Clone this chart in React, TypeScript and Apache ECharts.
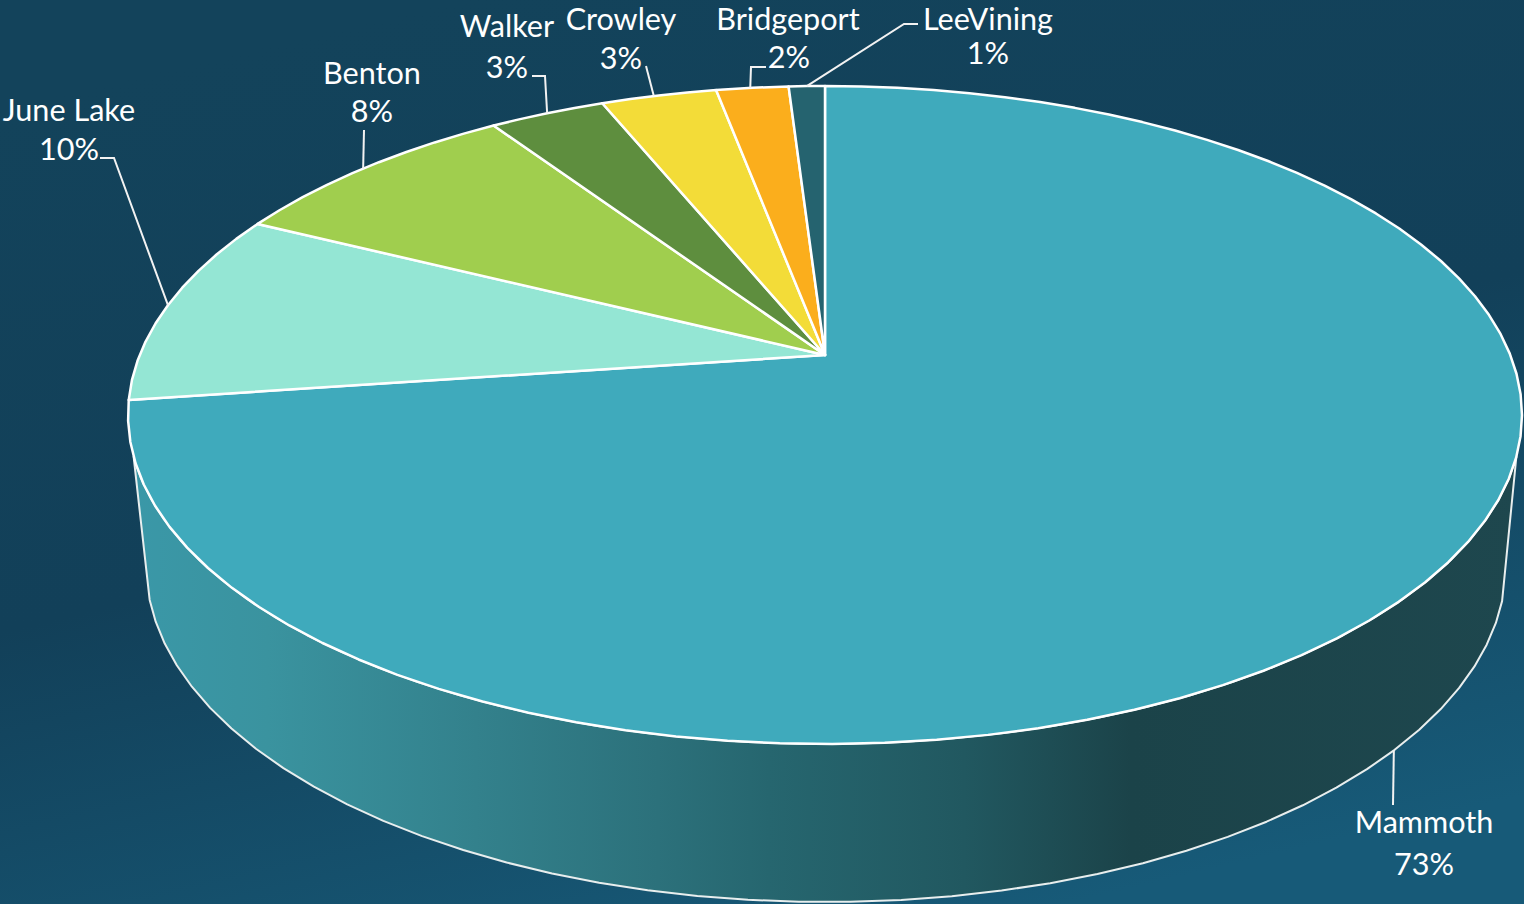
import React, { useEffect, useRef } from "react";
import * as echarts from "echarts";

const categories = ["Mammoth", "June Lake", "Benton", "Walker", "Crowley", "Bridgeport", "LeeVining"];
const shares = [72.8, 9.55, 8.25, 3.2, 3.2, 2.0, 1.0];
const sliceColors = ["#3FAABC", "#94E6D4", "#A0CE4E", "#5E8E3E", "#F3DC38", "#FBAE1C", "#25636F"];

const W = 1524;
const H = 904;
const FONT = "30.6px Lato";
const PERSPECTIVE = -0.1824;
const topRim = { cx: 825, cy: 415, rx: 697, ry: 329 };
const bottomRim = { cx: 826, cy: 565, rx: 680, ry: 337 };
const wallTop = [107.6, 252.4];
const wallBottom = [106.5, 253.7];

// label layout: name position, percent position, leader bend points, leader start nudge in degrees
const labelLayout = [
  { name: [1424, 821], pct: [1424, 863], leader: [[1393, 805]], onBottomRim: true, nudge: 0.7 },
  { name: [69, 109], pct: [69, 148], leader: [[114, 158], [100, 158]], nudge: 0 },
  { name: [372, 72.5], pct: [372, 110.5], leader: [[364, 130]], nudge: -0.3 },
  { name: [507, 25], pct: [507, 66], leader: [[545, 76], [532, 76]], nudge: 0 },
  { name: [621, 18.5], pct: [621, 57], leader: [[646, 66]], nudge: -0.5 },
  { name: [788, 18.5], pct: [789, 56], leader: [[751, 67], [766, 67]], nudge: -0.2 },
  { name: [988, 18.5], pct: [988, 52], leader: [[904, 24], [918, 24]], nudge: 0 },
];

type Rim = { cx: number; cy: number; rx: number; ry: number };

function project(rim: Rim, deg: number): number[] {
  const t = (deg * Math.PI) / 180;
  const k = PERSPECTIVE;
  const u = Math.sin(t);
  const v = -Math.cos(t);
  const y0 = rim.cy - rim.ry;
  const y1 = rim.cy + rim.ry;
  const b = (y0 * (1 - k) + y1 * (1 + k)) / 2;
  const a = (y1 * (1 + k) - y0 * (1 - k)) / 2;
  const c = rim.rx * Math.sqrt(1 - k * k);
  const d = 1 + k * v;
  return [rim.cx + (c * u) / d, (a * v + b) / d];
}

function arc(rim: Rim, from: number, to: number): number[][] {
  const step = 3.6;
  const n = Math.max(1, Math.ceil(Math.abs(to - from) / step));
  const pts: number[][] = [];
  for (let i = 0; i <= n; i++) pts.push(project(rim, from + ((to - from) * i) / n));
  return pts;
}

function pieCenter(rim: Rim): number[] {
  const k = PERSPECTIVE;
  const y0 = rim.cy - rim.ry;
  const y1 = rim.cy + rim.ry;
  return [rim.cx, (y0 * (1 - k) + y1 * (1 + k)) / 2];
}

export default function App() {
  const ref = useRef<HTMLDivElement>(null);
  useEffect(() => {
    document.body.style.margin = "0";
    const chart = echarts.init(ref.current!, null, { renderer: "svg" });
    const total = shares.reduce((s, v) => s + v, 0);
    const renderItem = (params: any, api: any) => {
      const i = params.dataIndex;
      const value = api.value(0);
      let before = 0;
      for (let j = 0; j < i; j++) before += shares[j];
      const start = (before / total) * 360;
      const end = ((before + value) / total) * 360;
      const layout = labelLayout[i];
      const mid = (start + end) / 2 + layout.nudge;
      const children: any[] = [];
      if (i === 0) {
        const points = [
          ...arc(topRim, wallTop[0], wallTop[1]),
          ...arc(bottomRim, wallBottom[1], wallBottom[0]),
        ];
        children.push({
          type: "polygon",
          shape: { points },
          style: {
            fill: new echarts.graphic.LinearGradient(
              topRim.cx - topRim.rx,
              0,
              topRim.cx + topRim.rx,
              0,
              [
                { offset: 0, color: "#3A98A8" },
                { offset: 0.1, color: "#3A939F" },
                { offset: 0.25, color: "#33818C" },
                { offset: 0.38, color: "#2C717B" },
                { offset: 0.46, color: "#26666F" },
                { offset: 0.6, color: "#215860" },
                { offset: 0.72, color: "#1B4349" },
                { offset: 1, color: "#1E474E" },
              ],
              true
            ),
            stroke: "#E8EEEE",
            lineWidth: 2,
            lineJoin: "round",
          },
        });
      }
      children.push({
        type: "polygon",
        shape: { points: [pieCenter(topRim), ...arc(topRim, start, end)] },
        style: { fill: sliceColors[i], stroke: "#FFFFFF", lineWidth: 2.5, lineJoin: "round" },
      });
      const anchor = project(layout.onBottomRim ? bottomRim : topRim, mid);
      children.push({
        type: "polyline",
        shape: { points: [anchor, ...layout.leader] },
        style: { fill: "none", stroke: "#F2F2F2", lineWidth: 2 },
      });
      const textStyle = { fill: "#FFFFFF", font: FONT, align: "center", verticalAlign: "middle" };
      children.push({
        type: "text",
        style: { ...textStyle, text: categories[i], x: layout.name[0], y: layout.name[1] },
      });
      children.push({
        type: "text",
        style: {
          ...textStyle,
          text: `${Math.round((value / total) * 100)}%`,
          x: layout.pct[0],
          y: layout.pct[1],
        },
      });
      return { type: "group", children };
    };
    chart.setOption({
      animation: false,
      backgroundColor: {
        type: "linear",
        x: 0.3,
        y: 0,
        x2: 0.7,
        y2: 1,
        colorStops: [
          { offset: 0, color: "#13435B" },
          { offset: 0.5, color: "#124059" },
          { offset: 1, color: "#175A78" },
        ],
      },
      series: [
        {
          type: "custom",
          coordinateSystem: "none",
          silent: true,
          clip: false,
          renderItem,
          data: shares.map((v) => [v]),
        },
      ],
    });
    return () => chart.dispose();
  }, []);
  return <div ref={ref} style={{ width: W, height: H }} />;
}
